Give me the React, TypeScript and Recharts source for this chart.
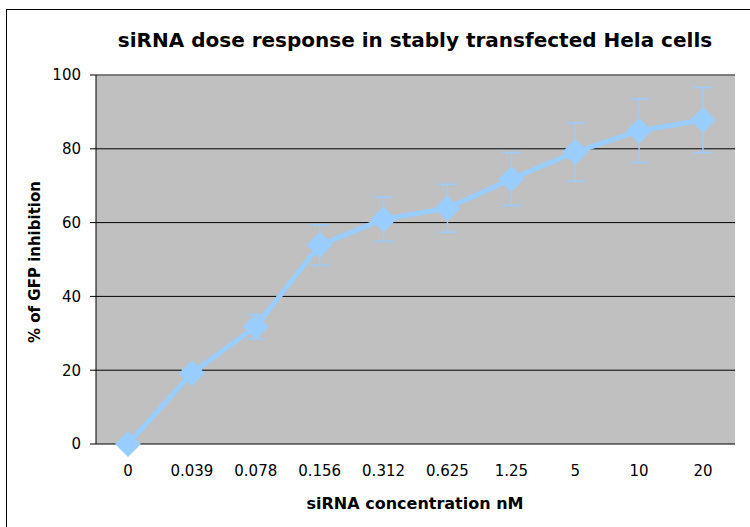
import {
  LineChart,
  Line,
  XAxis,
  YAxis,
  CartesianGrid,
  ErrorBar,
  ReferenceLine,
} from 'recharts';

const doses = ['0', '0.039', '0.078', '0.156', '0.312', '0.625', '1.25', '5', '10', '20'];
const inhibition = [0, 19.2, 31.8, 53.9, 60.9, 63.9, 71.8, 79.1, 84.9, 87.8];
const errors = [0, 1, 3.3, 5.5, 6, 6.5, 7.2, 7.9, 8.6, 8.8];
const yTicks = [0, 20, 40, 60, 80, 100];
const edgeTicks = [0, 1, 2, 3, 4, 5, 6, 7, 8, 9, 10];

const FONT = '"DejaVu Sans", sans-serif';
const BLUE = '#99CCFF';

const data = doses.map((dose, i) => ({ dose, value: inhibition[i], err: errors[i] }));

function Diamond(props: any) {
  const { cx, cy } = props;
  if (cx == null || cy == null) return null;
  const r = 13;
  return (
    <polygon
      points={`${cx},${cy - r} ${cx + r},${cy} ${cx},${cy + r} ${cx - r},${cy}`}
      fill={BLUE}
      stroke="none"
    />
  );
}

export default function App() {
  return (
    <div
      style={{
        position: 'absolute',
        left: 0,
        top: 0,
        width: 750,
        height: 527,
        overflow: 'hidden',
        background: '#fff',
        fontFamily: FONT,
      }}
    >
      <LineChart
        width={750}
        height={527}
        data={data}
        margin={{ top: 75, right: 15, left: 36, bottom: 23 }}
      >
        <rect x={6.5} y={9.5} width={800} height={600} fill="none" stroke="#000" strokeWidth={1} />
        <CartesianGrid vertical={false} stroke="#000" fill="#C0C0C0" fillOpacity={1} />
        <XAxis
          xAxisId="edges"
          type="number"
          domain={[0, 10]}
          ticks={edgeTicks}
          allowDataOverflow
          tick={false}
          tickSize={5}
          height={0}
          axisLine={{ stroke: '#000' }}
          tickLine={{ stroke: '#000' }}
        />
        <XAxis
          dataKey="dose"
          height={60}
          padding={{ left: 32, right: 32 }}
          axisLine={false}
          tickLine={false}
          tickSize={0}
          tickMargin={21}
          tick={{ fill: '#000', fontSize: 15, fontFamily: FONT }}
          interval={0}
        />
        <YAxis
          domain={[0, 100]}
          ticks={yTicks}
          width={60}
          tickSize={6}
          tickMargin={9}
          axisLine={{ stroke: '#000' }}
          tickLine={{ stroke: '#000' }}
          tick={{ fill: '#000', fontSize: 15, fontFamily: FONT }}
        />
        <ReferenceLine y={100} stroke="#808080" strokeWidth={1.5} />
        <ReferenceLine xAxisId="edges" x={10} stroke="#808080" strokeWidth={1.5} />
        <Line
          dataKey="value"
          stroke={BLUE}
          strokeWidth={5}
          dot={(p: any) => <Diamond key={p.index} {...p} />}
          activeDot={false}
          isAnimationActive={false}
        >
          <ErrorBar dataKey="err" width={10} stroke={BLUE} strokeWidth={1.5} direction="y" />
        </Line>
        <text
          x={415}
          y={47}
          textAnchor="middle"
          fontFamily={FONT}
          fontWeight="bold"
          fontSize={20}
          fill="#000"
        >
          siRNA dose response in stably transfected Hela cells
        </text>
        <text
          x={415}
          y={509}
          textAnchor="middle"
          fontFamily={FONT}
          fontWeight="bold"
          fontSize={16}
          fill="#000"
        >
          siRNA concentration nM
        </text>
        <text
          x={40}
          y={262}
          transform="rotate(-90 40 262)"
          textAnchor="middle"
          fontFamily={FONT}
          fontWeight="bold"
          fontSize={15}
          fill="#000"
        >
          % of GFP inhibition
        </text>
      </LineChart>
    </div>
  );
}
